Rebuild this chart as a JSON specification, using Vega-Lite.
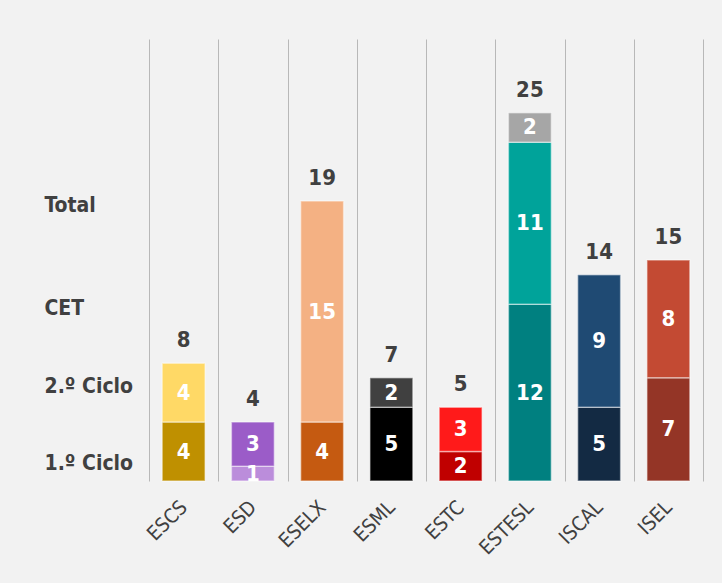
{
  "$schema": "https://vega.github.io/schema/vega-lite/v6.json",
  "width": 554,
  "height": 442,
  "autosize": {"type": "none"},
  "padding": {"left": 149, "top": 39, "right": 19, "bottom": 102},
  "background": "#f2f2f2",
  "config": {
    "view": {"stroke": null},
    "font": "DejaVu Sans Condensed, DejaVu Sans"
  },
  "data": {
    "values": [
      {"escola": "ESCS", "nivel": "1.º Ciclo", "valor": 4},
      {"escola": "ESCS", "nivel": "2.º Ciclo", "valor": 4},
      {"escola": "ESD", "nivel": "1.º Ciclo", "valor": 1},
      {"escola": "ESD", "nivel": "2.º Ciclo", "valor": 3},
      {"escola": "ESELX", "nivel": "1.º Ciclo", "valor": 4},
      {"escola": "ESELX", "nivel": "2.º Ciclo", "valor": 15},
      {"escola": "ESML", "nivel": "1.º Ciclo", "valor": 5},
      {"escola": "ESML", "nivel": "2.º Ciclo", "valor": 2},
      {"escola": "ESTC", "nivel": "1.º Ciclo", "valor": 2},
      {"escola": "ESTC", "nivel": "2.º Ciclo", "valor": 3},
      {"escola": "ESTESL", "nivel": "1.º Ciclo", "valor": 12},
      {"escola": "ESTESL", "nivel": "2.º Ciclo", "valor": 11},
      {"escola": "ESTESL", "nivel": "CET", "valor": 2},
      {"escola": "ISCAL", "nivel": "1.º Ciclo", "valor": 5},
      {"escola": "ISCAL", "nivel": "2.º Ciclo", "valor": 9},
      {"escola": "ISEL", "nivel": "1.º Ciclo", "valor": 7},
      {"escola": "ISEL", "nivel": "2.º Ciclo", "valor": 8}
    ]
  },
  "transform": [
    {"calculate": "datum.escola + ' ' + datum.nivel", "as": "serie"}
  ],
  "encoding": {
    "x": {
      "field": "escola",
      "type": "nominal",
      "sort": null,
      "scale": {"paddingInner": 0, "paddingOuter": 0},
      "axis": {
        "title": null,
        "labelAngle": -45,
        "labelAlign": "right",
        "labelBaseline": "middle",
        "labelFontSize": 20,
        "labelColor": "#404040",
        "labelPadding": 23,
        "domain": false,
        "ticks": false,
        "tickSize": 0,
        "grid": true,
        "gridColor": "#b8b8b8",
        "gridWidth": 1,
        "tickBand": "extent"
      }
    }
  },
  "layer": [
    {
      "mark": {"type": "bar", "width": {"band": 0.62}, "stroke": "white", "strokeOpacity": 0.45, "strokeWidth": 1.5},
      "encoding": {
        "y": {
          "field": "valor",
          "type": "quantitative",
          "stack": "zero",
          "scale": {"domain": [0, 30], "nice": false},
          "axis": {
            "title": null,
            "values": [1.2, 6.4, 11.7, 18.7],
            "labelExpr": "datum.value < 3 ? '1.º Ciclo' : datum.value < 9 ? '2.º Ciclo' : datum.value < 15 ? 'CET' : 'Total'",
            "domain": false,
            "ticks": false,
            "tickSize": 0,
            "grid": false,
            "labelAlign": "left",
            "labelBaseline": "middle",
            "labelPadding": 105,
            "labelFlush": false,
            "labelOverlap": false,
            "labelBound": false,
            "labelFontWeight": "bold",
            "labelFontSize": 21,
            "labelColor": "#404040"
          }
        },
        "color": {
          "field": "serie",
          "type": "nominal",
          "legend": null,
          "scale": {
            "domain": ["ESCS 1.º Ciclo", "ESCS 2.º Ciclo", "ESD 1.º Ciclo", "ESD 2.º Ciclo", "ESELX 1.º Ciclo", "ESELX 2.º Ciclo", "ESML 1.º Ciclo", "ESML 2.º Ciclo", "ESTC 1.º Ciclo", "ESTC 2.º Ciclo", "ESTESL 1.º Ciclo", "ESTESL 2.º Ciclo", "ESTESL CET", "ISCAL 1.º Ciclo", "ISCAL 2.º Ciclo", "ISEL 1.º Ciclo", "ISEL 2.º Ciclo"],
            "range": ["#bf9000", "#ffd966", "#bb8ddb", "#9b5cc8", "#c55a11", "#f4b183", "#000000", "#404040", "#c00000", "#ff1a1a", "#008080", "#00a39a", "#a6a6a6", "#132a43", "#1f4a73", "#943526", "#c34a33"]
          }
        },
        "order": {"field": "nivel", "type": "ordinal", "sort": "ascending"}
      }
    },
    {
      "transform": [
        {"stack": "valor", "groupby": ["escola"], "sort": [{"field": "nivel", "order": "ascending"}], "as": ["v0", "v1"]},
        {"calculate": "(datum.v0 + datum.v1) / 2", "as": "vmid"}
      ],
      "mark": {"type": "text", "color": "white", "fontWeight": "bold", "fontSize": 22, "baseline": "middle"},
      "encoding": {
        "y": {"field": "vmid", "type": "quantitative"},
        "text": {"field": "valor", "type": "quantitative"}
      }
    },
    {
      "transform": [
        {"aggregate": [{"op": "sum", "field": "valor", "as": "total"}], "groupby": ["escola"]}
      ],
      "mark": {"type": "text", "color": "#404040", "fontWeight": "bold", "fontSize": 22, "baseline": "middle", "dy": -23},
      "encoding": {
        "y": {"field": "total", "type": "quantitative"},
        "text": {"field": "total", "type": "quantitative"}
      }
    }
  ]
}
